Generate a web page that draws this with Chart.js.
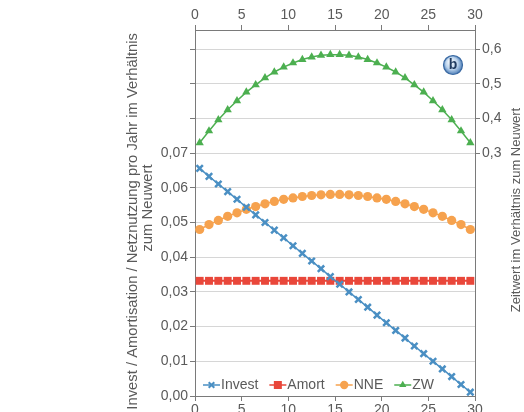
<!DOCTYPE html>
<html><head><meta charset="utf-8">
<script src="https://cdn.jsdelivr.net/npm/chart.js@4.4.0/dist/chart.umd.min.js"></script>
<style>
html,body{margin:0;padding:0;overflow:hidden;background:#fff;width:524px;height:412px}
#wrap{width:524px;height:426px;position:relative}
</style>
</head><body><div id="wrap"><canvas id="c" width="524" height="426"></canvas></div>
<script>
// ---- data ----
const years = [0.5,1.5,2.5,3.5,4.5,5.5,6.5,7.5,8.5,9.5,10.5,11.5,12.5,13.5,14.5,15.5,16.5,17.5,18.5,19.5,20.5,21.5,22.5,23.5,24.5,25.5,26.5,27.5,28.5,29.5];
const invest = [0.0656,0.0633,0.0611,0.0589,0.0567,0.0544,0.0522,0.0500,0.0478,0.0456,0.0433,0.0411,0.0389,0.0367,0.0344,0.0322,0.0300,0.0278,0.0256,0.0233,0.0211,0.0189,0.0167,0.0144,0.0122,0.0100,0.0078,0.0056,0.0033,0.0011];
const amort = [0.0332,0.0332,0.0332,0.0332,0.0332,0.0332,0.0332,0.0332,0.0332,0.0332,0.0332,0.0332,0.0332,0.0332,0.0332,0.0332,0.0332,0.0332,0.0332,0.0332,0.0332,0.0332,0.0332,0.0332,0.0332,0.0332,0.0332,0.0332,0.0332,0.0332];
const nne = [0.0480,0.0494,0.0506,0.0518,0.0528,0.0538,0.0546,0.0554,0.0561,0.0567,0.0571,0.0575,0.0578,0.0580,0.0581,0.0581,0.0580,0.0578,0.0575,0.0571,0.0567,0.0561,0.0554,0.0546,0.0538,0.0528,0.0518,0.0506,0.0494,0.0480];
const zw = [0.330,0.364,0.396,0.425,0.451,0.476,0.497,0.517,0.534,0.548,0.560,0.570,0.577,0.582,0.584,0.584,0.582,0.577,0.570,0.560,0.548,0.534,0.517,0.497,0.476,0.451,0.425,0.396,0.364,0.330];
const seriesNames = ['Invest','Amort','NNE','ZW'];
const xTicks = [0,5,10,15,20,25,30];
const leftGridTicks = [0,0.01,0.02,0.03,0.04,0.05,0.06,0.07,0.08,0.09,0.10];
const leftLabelMax = 0.07;
const rightTicks = [0.3,0.4,0.5,0.6];
const leftTitle = ['Invest / Amortisation / Netznutzung pro Jahr im Verhältnis','zum Neuwert'];
const rightTitle = 'Zeitwert im Verhältnis zum Neuwert';
const badgeText = 'b';

// ---- styles ----
const colors = {Invest:'#4a8fc3', Amort:'#e9473a', NNE:'#f6a24e', ZW:'#4caf50'};
const styles = {Invest:'crossRot', Amort:'rect', NNE:'circle', ZW:'triangle'};
const txt = '#5a5a5a';
const axisCol = '#7a7a7a';
const gridCol = '#d6d6d6';
const FONT = '"Liberation Sans", Arial, sans-serif';
const tickFont = {family: FONT, size: 14};

function pts(arr){ return years.map((x,i)=>({x:x, y:arr[i]})); }

const datasets = [
  {label:'Invest', data:pts(invest), yAxisID:'y', borderColor:colors.Invest, backgroundColor:colors.Invest,
   borderWidth:1.5, pointStyle:'crossRot', pointRadius:4.5, pointBorderWidth:2.5, pointBorderColor:colors.Invest, pointBackgroundColor:colors.Invest},
  {label:'Amort', data:pts(amort), yAxisID:'y', borderColor:colors.Amort, backgroundColor:colors.Amort,
   borderWidth:2, pointStyle:'rect', pointRadius:5.6, pointBorderWidth:0, pointBackgroundColor:colors.Amort},
  {label:'NNE', data:pts(nne), yAxisID:'y', borderColor:colors.NNE, backgroundColor:colors.NNE,
   borderWidth:1.5, pointStyle:'circle', pointRadius:4.6, pointBorderWidth:0, pointBackgroundColor:colors.NNE},
  {label:'ZW', data:pts(zw), yAxisID:'y2', borderColor:colors.ZW, backgroundColor:colors.ZW,
   borderWidth:1.5, pointStyle:'triangle', pointRadius:4.8, pointBorderWidth:0, pointBackgroundColor:colors.ZW}
];

function drawMarker(ctx, style, x, y, r, col){
  ctx.save();
  ctx.fillStyle = col; ctx.strokeStyle = col;
  ctx.beginPath();
  if (style==='rect'){ ctx.fillRect(x-r, y-r, 2*r, 2*r); }
  else if (style==='circle'){ ctx.arc(x,y,r,0,Math.PI*2); ctx.fill(); }
  else if (style==='triangle'){
    ctx.moveTo(x, y-r); ctx.lineTo(x+r*0.866, y+r*0.5); ctx.lineTo(x-r*0.866, y+r*0.5); ctx.closePath(); ctx.fill();
  } else {
    ctx.lineWidth = 2;
    const d = r*0.7;
    ctx.moveTo(x-d,y-d); ctx.lineTo(x+d,y+d); ctx.moveTo(x+d,y-d); ctx.lineTo(x-d,y+d); ctx.stroke();
  }
  ctx.restore();
}

const decorPlugin = {
  id:'decor',
  afterDraw(chart){
    const ctx = chart.ctx;
    const ca = chart.chartArea;
    ctx.save();
    // axis titles
    ctx.fillStyle = txt;
    ctx.textBaseline = 'middle';
    // first line: fit to the span seen in the reference
    ctx.font = '13.5px ' + FONT;
    const w0 = ctx.measureText(leftTitle[0]).width;
    const fs0 = Math.min(15, 13.5 * 377 / w0);
    ctx.font = fs0.toFixed(2) + 'px ' + FONT;
    ctx.save(); ctx.translate(133, 33); ctx.rotate(-Math.PI/2); ctx.textAlign='right'; ctx.fillText(leftTitle[0], 0, 0); ctx.restore();
    ctx.save(); ctx.translate(147.5, 208); ctx.rotate(-Math.PI/2); ctx.textAlign='center'; ctx.fillText(leftTitle[1], 0, 0); ctx.restore();
    ctx.font = '13px ' + FONT;
    ctx.save(); ctx.translate(516, 210); ctx.rotate(-Math.PI/2); ctx.textAlign='center'; ctx.fillText(rightTitle, 0, 0); ctx.restore();

    // legend inside plot
    ctx.font = '14px ' + FONT;
    ctx.textAlign = 'left';
    let lx = ca.left + 8;
    const ly = ca.bottom - 11;
    seriesNames.forEach(name=>{
      const c = colors[name];
      ctx.strokeStyle = c; ctx.lineWidth = 1.5;
      ctx.beginPath(); ctx.moveTo(lx, ly); ctx.lineTo(lx+17, ly); ctx.stroke();
      const r = name==='Amort'?4:(name==='Invest'?4:4.2);
      drawMarker(ctx, styles[name], lx+8.5, ly, r, c);
      ctx.fillStyle = txt;
      ctx.fillText(name, lx+18, ly+0.5);
      lx += 18 + ctx.measureText(name).width + 11;
    });

    // badge "b"
    const bx = ca.right - 22, by = 65, br = 9.5;
    const g = ctx.createRadialGradient(bx-3, by-4, 1, bx, by, br);
    g.addColorStop(0, '#f2f7fc');
    g.addColorStop(0.6, '#b9d2ec');
    g.addColorStop(1, '#4f7fb8');
    ctx.beginPath(); ctx.arc(bx, by, br, 0, Math.PI*2);
    ctx.fillStyle = g; ctx.fill();
    ctx.lineWidth = 1.2; ctx.strokeStyle = '#3b6aa3'; ctx.stroke();
    ctx.fillStyle = '#1f3a5f';
    ctx.font = 'bold 14px ' + FONT;
    ctx.textAlign = 'center'; ctx.textBaseline = 'middle';
    ctx.fillText(badgeText, bx, by+0.5);
    ctx.restore();
  }
};

const xCommon = {
  type:'linear', min:0, max:30,
  afterBuildTicks: s => { s.ticks = xTicks.map(v=>({value:v})); },
  ticks:{color:txt, font:tickFont, padding:1, maxRotation:0},
  grid:{drawOnChartArea:false, drawTicks:true, tickLength:5, tickColor:axisCol, color:axisCol},
  border:{display:true, color:axisCol, width:1}
};

new Chart(document.getElementById('c'), {
  type:'line',
  data:{datasets},
  options:{
    responsive:false, animation:false,
    layout:{padding:0},
    plugins:{legend:{display:false}, tooltip:{enabled:false}},
    elements:{line:{tension:0}},
    scales:{
      x: Object.assign({}, xCommon, {position:'bottom', afterFit: s=>{ s.height = 30; }}),
      x2: Object.assign({}, xCommon, {position:'top', axis:'x', afterFit: s=>{ s.height = 30; }}),
      y: {
        position:'left', min:0, max:0.1055,
        afterBuildTicks: s => { s.ticks = leftGridTicks.map(v=>({value:v})); },
        ticks:{color:txt, font:tickFont, padding:2,
          callback: v => (v <= leftLabelMax + 1e-9) ? v.toFixed(2).replace('.', ',') : ''},
        grid:{drawOnChartArea:true, color:gridCol, tickLength:5, tickColor:axisCol, lineWidth:1},
        border:{display:true, color:axisCol},
        afterFit: s=>{ s.width = 195; }
      },
      y2: {
        position:'right', min:-0.4, max:0.655,
        afterBuildTicks: s => { s.ticks = rightTicks.map(v=>({value:v})); },
        ticks:{color:txt, font:tickFont, padding:2,
          callback: v => (Math.round(v*10)/10).toFixed(1).replace('.', ',')},
        grid:{drawOnChartArea:false, tickLength:5, tickColor:axisCol, color:axisCol},
        border:{display:true, color:axisCol},
        afterFit: s=>{ s.width = 49; }
      }
    }
  },
  plugins:[decorPlugin]
});
</script>
</body></html>
